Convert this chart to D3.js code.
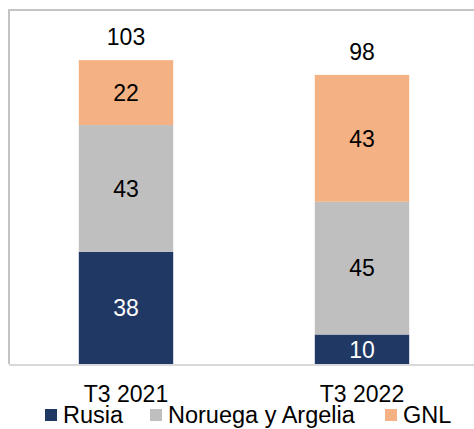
<!DOCTYPE html>
<html>
<head>
<meta charset="utf-8">
<script src="https://cdn.jsdelivr.net/npm/d3@7"></script>
<style>
  body { margin: 0; background: #fff; }
  svg { display: block; font-family: "Liberation Sans", Arial, sans-serif; }
</style>
</head>
<body>
<div id="chart-container"></div>
<script>
const categories = ["T3 2021", "T3 2022"];
const seriesNames = ["Rusia", "Noruega y Argelia", "GNL"];
const rusia = [38, 10];
const noruegaArgelia = [43, 45];
const gnl = [22, 43];
const totals = [103, 98];
const colors = ["#203864", "#BFBFBF", "#F4B183"];
const labelColors = ["#fff", "#000", "#000"];

const render = () => {
  const width = 474;
  const height = 429;
  const svg = d3.select("#chart-container").append("svg")
    .attr("width", width)
    .attr("height", height);

  const rows = categories.map((c, i) => ({
    cat: c,
    Rusia: rusia[i],
    "Noruega y Argelia": noruegaArgelia[i],
    GNL: gnl[i],
    total: totals[i]
  }));

  const stacked = d3.stack().keys(seriesNames)(rows);

  const x = d3.scaleBand().domain(categories).range([8, 480])
    .paddingInner(0.6).paddingOuter(0.3);
  const y = d3.scaleLinear().domain([0, 120]).range([364, 10]);

  // frame
  svg.append("path")
    .attr("d", `M9,364V10H${width}`)
    .attr("fill", "none")
    .attr("stroke", "#C4C4C4")
    .attr("stroke-width", 2);

  const layers = svg.append("g").selectAll("g")
    .data(stacked)
    .join("g")
    .attr("fill", (d, i) => colors[i]);

  layers.selectAll("rect")
    .data((d) => d)
    .join("rect")
    .attr("x", (d) => x(d.data.cat))
    .attr("y", (d) => y(d[1]))
    .attr("width", x.bandwidth())
    .attr("height", (d) => y(d[0]) - y(d[1]));

  // axis line
  svg.append("line")
    .attr("x1", 9).attr("x2", width)
    .attr("y1", 365).attr("y2", 365)
    .attr("stroke", "#D9D9D9")
    .attr("stroke-width", 2);

  // segment labels
  stacked.forEach((layer, li) => {
    svg.append("g").selectAll("text")
      .data(layer)
      .join("text")
      .attr("x", (d) => x(d.data.cat) + x.bandwidth() / 2)
      .attr("y", (d) => (y(d[0]) + y(d[1])) / 2)
      .attr("dy", "0.36em")
      .attr("text-anchor", "middle")
      .attr("font-size", 23)
      .attr("fill", labelColors[li])
      .text((d) => d[1] - d[0]);
  });

  // totals
  svg.append("g").selectAll("text")
    .data(rows)
    .join("text")
    .attr("x", (d) => x(d.cat) + x.bandwidth() / 2)
    .attr("y", (d) => y(d.total) - 15)
    .attr("text-anchor", "middle")
    .attr("font-size", 23)
    .attr("fill", "#000")
    .text((d) => d.total);

  // category labels
  svg.append("g").selectAll("text")
    .data(categories)
    .join("text")
    .attr("x", (d) => x(d) + x.bandwidth() / 2)
    .attr("y", 402)
    .attr("text-anchor", "middle")
    .attr("font-size", 23)
    .attr("fill", "#000")
    .text((d) => d);

  // legend
  const legendX = [45, 150, 385];
  const legend = svg.append("g").selectAll("g")
    .data(seriesNames)
    .join("g")
    .attr("transform", (d, i) => `translate(${legendX[i]},409)`);
  legend.append("rect")
    .attr("width", 12).attr("height", 12)
    .attr("fill", (d, i) => colors[i]);
  legend.append("text")
    .attr("x", 18)
    .attr("y", 14)
    .attr("font-size", 23.5)
    .attr("fill", "#000")
    .text((d) => d);
};

render();
</script>
</body>
</html>
